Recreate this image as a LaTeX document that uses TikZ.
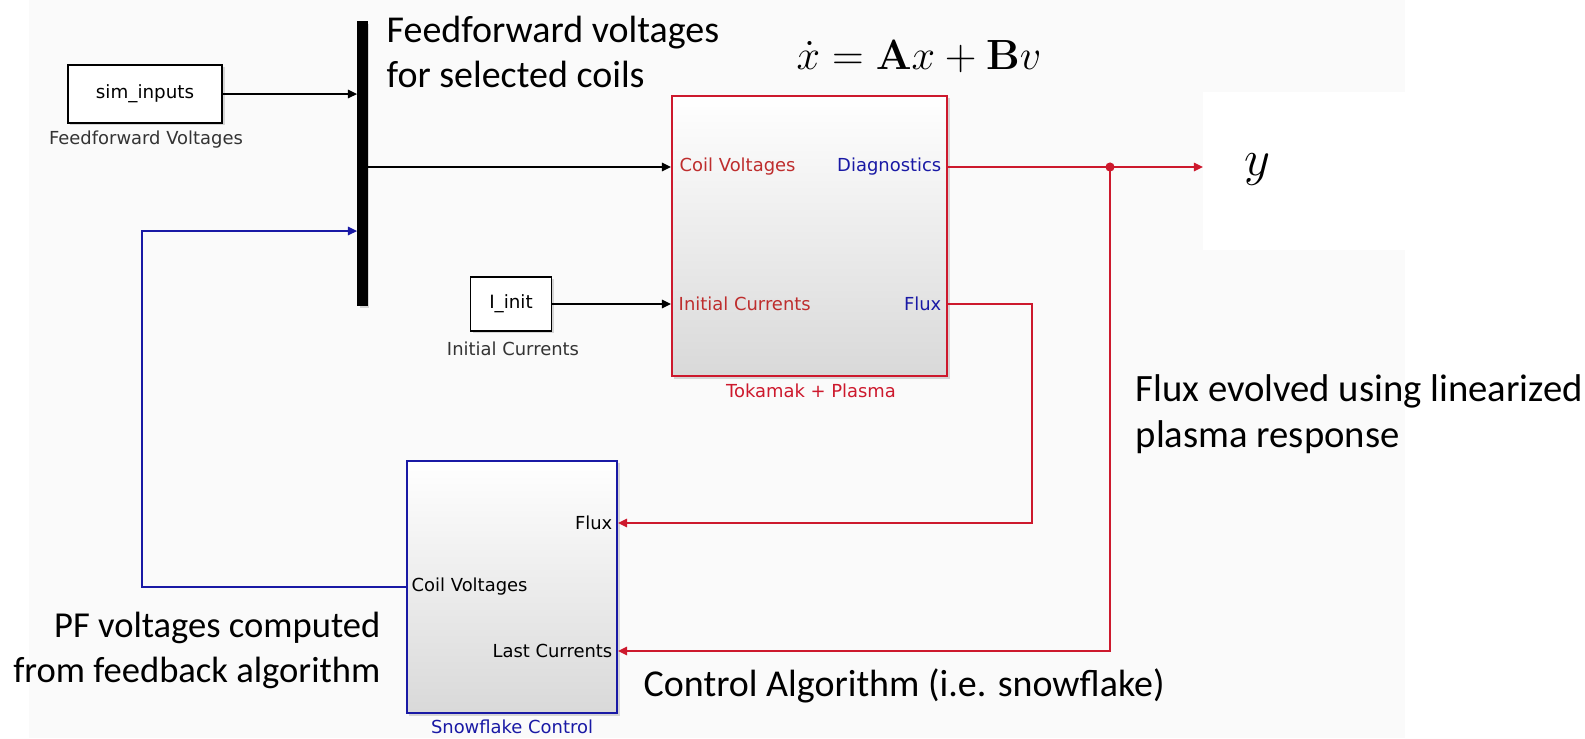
\documentclass[tikz,border=0pt]{standalone}
\usepackage[no-math]{fontspec}
\setmainfont{Carlito}
\newfontfamily\slfont{DejaVu Sans}
\usetikzlibrary{arrows.meta,positioning,shadows}
\definecolor{slred}{RGB}{205,25,45}
\definecolor{slblue}{RGB}{25,25,165}
\definecolor{txtred}{RGB}{190,45,45}
\definecolor{canvas}{RGB}{250,250,250}
\tikzset{
  sig/.style={line width=0.45pt, -{Triangle[length=2.6pt,width=2.4pt]}},
  blk/.style={draw, line width=0.5pt, fill=white, inner sep=0pt,
    drop shadow={shadow xshift=0.7pt, shadow yshift=-0.7pt, opacity=0.3},
    font=\slfont\fontsize{5.2}{6}\selectfont},
  subsys/.style={blk, top color=white, middle color=black!3, bottom color=black!15},
  port/.style={inner sep=0pt, font=\slfont\fontsize{5.1}{6}\selectfont},
  note/.style={inner sep=0pt, font=\fontsize{10.8}{13}\selectfont}
}
\begin{document}
\begin{tikzpicture}[x=0.01cm, y=-0.01cm]
  \useasboundingbox (0,0) rectangle (1585,738);
  \fill[white] (0,0) rectangle (1585,738);
  \fill[canvas] (29,0) rectangle (1405,738);
  \fill[white] (1203,92) rectangle (1405,250);

  \node[blk, minimum width=1.54cm, minimum height=0.58cm] (sim) at (145,94) {sim\_inputs};
  \node[port, text=black!80] (simlbl) at (146,140) {Feedforward Voltages};
  \node[blk, fill=black, minimum width=0.09cm, minimum height=2.83cm] (mux) at (362.5,163.5) {};

  \node[blk, minimum width=0.81cm, minimum height=0.54cm] (iinit) at (511,304) {I\_init};
  \node[port, text=black!80] (iinitlbl) at (513,349) {Initial Currents};

  \node[subsys, draw=slred, minimum width=2.75cm, minimum height=2.80cm] (tok) at (809.5,236) {};
  \node[port, text=txtred, anchor=west] (tokcv) at (679,167) {Coil Voltages};
  \node[port, text=slblue, anchor=east] (tokdg) at (942,167) {Diagnostics};
  \node[port, text=txtred, anchor=west] (tokic) at (678,304) {Initial Currents};
  \node[port, text=slblue, anchor=east] (tokfx) at (942,304) {Flux};
  \node[port, text=slred] (toklbl) at (811,391) {Tokamak + Plasma};

  \node[subsys, draw=slblue, minimum width=2.10cm, minimum height=2.52cm] (snow) at (512,587) {};
  \node[port, anchor=east] (snowfx) at (613,523) {Flux};
  \node[port, anchor=west] (snowcv) at (411,587) {Coil Voltages};
  \node[port, anchor=east] (snowlc) at (613,651) {Last Currents};
  \node[port, text=slblue] (snowlbl) at (512,727) {Snowflake Control};

  \coordinate (jn) at (1110,167);
  \coordinate (ytip) at (1203,167);
  \coordinate (fbk) at (142,231);
  \node[anchor=west, inner sep=0pt, font=\fontsize{14}{16}\selectfont] (ylbl) at (1244,170) {$y$};

  \draw[sig] (sim.east) -- (sim.east -| mux.west);
  \draw[sig] (mux.east |- tokcv) -- (tok.west |- tokcv);
  \draw[sig] (iinit.east) -- (tok.west |- tokic);
  \draw[sig, slred] (tok.east |- tokdg) -- (ytip);
  \fill[slred] (jn) circle[radius=1.3pt];
  \draw[sig, slred] (jn) |- (snow.east |- snowlc);
  \draw[sig, slred] (tok.east |- tokfx) -- ++(84,0) |- (snow.east |- snowfx);
  \draw[sig, slblue] (snow.west |- snowcv) -| (fbk) -- (fbk -| mux.west);

  \node[note, anchor=west, align=left] (ffnote) at (386,52) {Feedforward voltages\\for selected coils};
  \node[inner sep=0pt, font=\fontsize{12}{14}\selectfont] (eqn) at (919,57) {$\dot{x} = \mathbf{A}x + \mathbf{B}v$};
  \node[note, anchor=west, align=left, font=\fontsize{11}{13.2}\selectfont] (fxnote) at (1135,414) {Flux evolved using linearized\\plasma response};
  \node[note, anchor=east, align=right, font=\fontsize{10.4}{12.8}\selectfont] (pfnote) at (381,650) {PF voltages computed\\from feedback algorithm};
  \node[note, anchor=west] (ctlnote) at (643,686) {Control Algorithm (i.e. snowflake)};
\end{tikzpicture}
\end{document}
